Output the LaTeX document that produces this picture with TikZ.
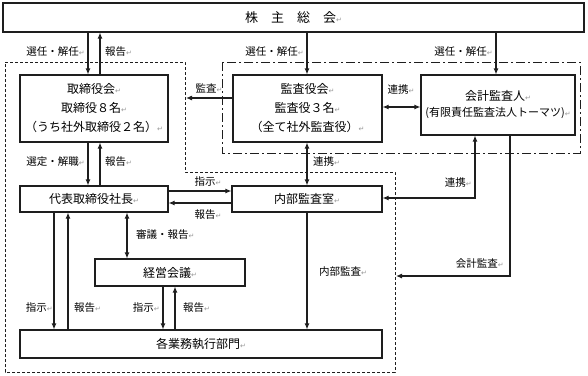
\documentclass[tikz,border=0pt]{standalone}
\usepackage{fontspec}
\setmainfont{Noto Sans CJK JP}
\newfontfamily\retfont{DejaVu Sans}
\usepackage{tikz}
\usetikzlibrary{arrows.meta}
\definecolor{linecol}{RGB}{30,30,30}
\definecolor{retcol}{RGB}{150,150,150}
\newcommand{\rt}{{\retfont\fontsize{7}{7}\selectfont\color{retcol}↵}}

\begin{document}
\begin{tikzpicture}[x=1pt,y=-1pt,
  font=\fontsize{12}{19}\selectfont,
  box/.style={draw=linecol,line width=1.1pt,align=center,inner sep=1pt},
  lab/.style={font=\fontsize{10.5}{12}\selectfont,inner sep=1pt},
  conn/.style={draw=linecol,line width=1.1pt},
  region/.style={draw=linecol,line width=0.9pt},
  >={Latex[length=6pt,width=5pt]}]
\useasboundingbox (0,0) rectangle (588,375);
% areas
\draw[region,dash pattern=on 3pt off 2pt] (5,62) -- (185,62) -- (185,172) -- (395,172)
  -- (395,372) -- (5,372) -- cycle;
\draw[region,dash pattern=on 9pt off 3pt on 2pt off 3pt] (222,62) rectangle (580,153);
% boxes
\node[box,minimum width=581pt,minimum height=29pt] (sh) at (293.5,17.5)
  {\fontsize{13}{15}\selectfont 株　主　総　会\rt};
\node[box,minimum width=148pt,minimum height=67pt] (board) at (94,108.5)
  {取締役会\rt\\取締役８名\rt\\（うち社外取締役２名）\rt};
\node[box,minimum width=149pt,minimum height=67pt] (kansa) at (307.5,108.5)
  {監査役会\rt\\監査役３名\rt\\（全て社外監査役）\rt};
\node[box,minimum width=154pt,minimum height=60pt,font=\fontsize{11}{16}\selectfont] (audit) at (498,105)
  {\fontsize{12}{16}\selectfont 会計監査人\rt\\(有限責任監査法人トーマツ)\rt};
\node[box,minimum width=148pt,minimum height=26pt] (ceo) at (94,199) {代表取締役社長\rt};
\node[box,minimum width=150pt,minimum height=26pt] (naibu) at (307,199) {内部監査室\rt};
\node[box,minimum width=150pt,minimum height=27pt] (keiei) at (170,272.5) {経営会議\rt};
\node[box,minimum width=362pt,minimum height=28pt] (dept) at (201,344) {各業務執行部門\rt};
% shareholders
\draw[conn,->] (88,0 |- sh.south) -- (88,0 |- board.north);
\draw[conn,->] (100,0 |- board.north) -- (100,0 |- sh.south);
\draw[conn,->] (307,0 |- sh.south) -- (307,0 |- kansa.north);
\draw[conn,->] (496,0 |- sh.south) -- (496,0 |- audit.north);
\node[lab,anchor=east] (selA) at (86,52) {選任・解任\rt};
\node[lab,anchor=west] (repA) at (104,52) {報告\rt};
\node[lab,anchor=east] (selB) at (305,52) {選任・解任\rt};
\node[lab,anchor=east] (selC) at (494,52) {選任・解任\rt};
% audit side
\coordinate (boardside) at (186,98);
\draw[conn,->] (kansa.west |- boardside) -- (boardside);
\node[lab] (audA) at (209,88) {監査\rt};
\draw[conn,<->] (kansa.east |- 0,107) -- (audit.west |- 0,107);
\node[lab] (coopA) at (401,90) {連携\rt};
\draw[conn,<->] (307,0 |- kansa.south) -- (307,0 |- naibu.north);
\node[lab,anchor=west] (coopB) at (312,162) {連携\rt};
\draw[conn,<->] (naibu.east |- 0,198) -| (475,0 |- audit.south);
\node[lab,anchor=east] (coopC) at (473,183) {連携\rt};
\coordinate (execside) at (396,276);
\draw[conn,->] (510,0 |- audit.south) |- (execside);
\node[lab,anchor=east] (audB) at (505,264) {会計監査\rt};
% executive side
\draw[conn,->] (88,0 |- board.south) -- (88,0 |- ceo.north);
\draw[conn,->] (100,0 |- ceo.north) -- (100,0 |- board.south);
\node[lab,anchor=east] (selD) at (86,162) {選定・解職\rt};
\node[lab,anchor=west] (repB) at (104,162) {報告\rt};
\draw[conn,->] (ceo.east |- 0,191) -- (naibu.west |- 0,191);
\draw[conn,->] (naibu.west |- 0,203) -- (ceo.east |- 0,203);
\node[lab] (ordA) at (208,182) {指示\rt};
\node[lab] (repC) at (208,215) {報告\rt};
\draw[conn,<->] (127,0 |- ceo.south) -- (127,0 |- keiei.north);
\node[lab,anchor=west] (delib) at (135,235) {審議・報告\rt};
\draw[conn,->] (54,0 |- ceo.south) -- (54,0 |- dept.north);
\draw[conn,->] (68,0 |- dept.north) -- (68,0 |- ceo.south);
\node[lab,anchor=east] (ordB) at (54,308) {指示\rt};
\node[lab,anchor=west] (repD) at (73,308) {報告\rt};
\draw[conn,->] (163,0 |- keiei.south) -- (163,0 |- dept.north);
\draw[conn,->] (175,0 |- dept.north) -- (175,0 |- keiei.south);
\node[lab,anchor=east] (ordC) at (161,308) {指示\rt};
\node[lab,anchor=west] (repE) at (182,308) {報告\rt};
\draw[conn,->] (307,0 |- naibu.south) -- (307,0 |- dept.north);
\node[lab,anchor=west] (audC) at (318,272) {内部監査\rt};
\end{tikzpicture}
\end{document}
